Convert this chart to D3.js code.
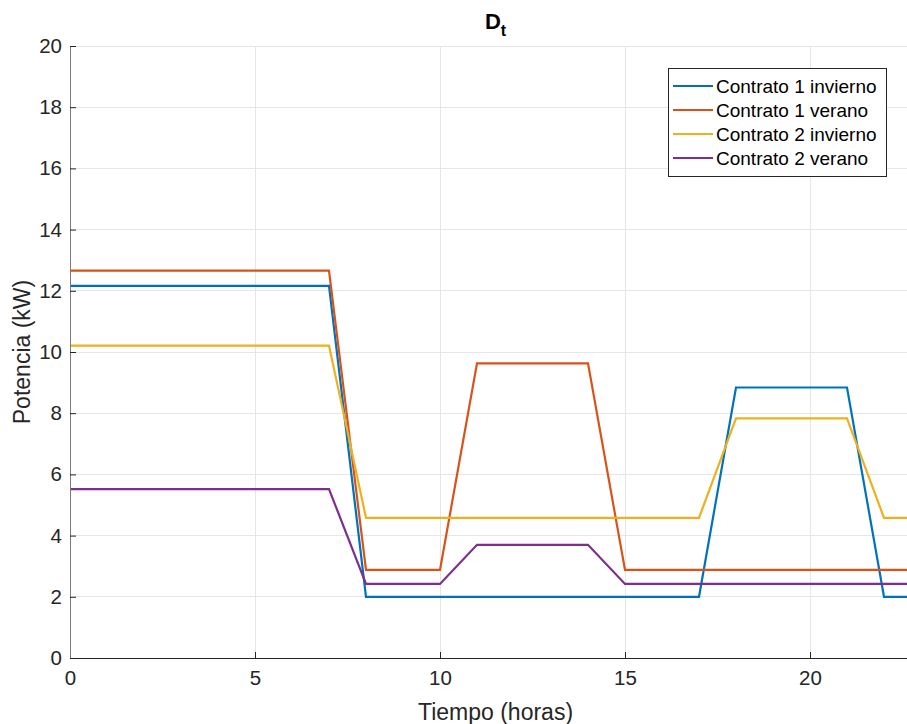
<!DOCTYPE html>
<html>
<head>
<meta charset="utf-8">
<script src="https://cdn.jsdelivr.net/npm/d3@7"></script>
<style>
  html, body { margin: 0; padding: 0; background: #fff; }
  svg { display: block; font-family: "Liberation Sans", Arial, Helvetica, sans-serif; }
</style>
</head>
<body>
<svg id="chart" width="907" height="724"></svg>
<script>
// Hourly power demand (kW) for each contract/season
const hours = [0,1,2,3,4,5,6,7,8,9,10,11,12,13,14,15,16,17,18,19,20,21,22,23];
const c1Invierno = [12.16,12.16,12.16,12.16,12.16,12.16,12.16,12.16,2.0,2.0,2.0,2.0,2.0,2.0,2.0,2.0,2.0,2.0,8.84,8.84,8.84,8.84,2.0,2.0];
const c1Verano   = [12.66,12.66,12.66,12.66,12.66,12.66,12.66,12.66,2.88,2.88,2.88,9.63,9.63,9.63,9.63,2.88,2.88,2.88,2.88,2.88,2.88,2.88,2.88,2.88];
const c2Invierno = [10.21,10.21,10.21,10.21,10.21,10.21,10.21,10.21,4.58,4.58,4.58,4.58,4.58,4.58,4.58,4.58,4.58,4.58,7.83,7.83,7.83,7.83,4.58,4.58];
const c2Verano   = [5.52,5.52,5.52,5.52,5.52,5.52,5.52,5.52,2.42,2.42,2.42,3.70,3.70,3.70,3.70,2.42,2.42,2.42,2.42,2.42,2.42,2.42,2.42,2.42];

const seriesNames = ["Contrato 1 invierno", "Contrato 1 verano", "Contrato 2 invierno", "Contrato 2 verano"];
const seriesColors = ["#0072BD", "#D95319", "#EDB120", "#7E2F8E"];
const seriesValues = [c1Invierno, c1Verano, c2Invierno, c2Verano];

const xTicks = [0, 5, 10, 15, 20];
const yTicks = [0, 2, 4, 6, 8, 10, 12, 14, 16, 18, 20];

const svg = d3.select("#chart");
const plotLeft = 70, plotRight = 921, plotTop = 46, plotBottom = 658;

const x = d3.scaleLinear().domain([0, 23]).range([plotLeft, plotRight]);
const y = d3.scaleLinear().domain([0, 20]).range([plotBottom, plotTop]);

// grid
const grid = svg.append("g").attr("stroke", "#e6e6e6").attr("stroke-width", 1).attr("shape-rendering", "crispEdges");
xTicks.forEach(t => grid.append("line").attr("x1", x(t)).attr("x2", x(t)).attr("y1", plotTop).attr("y2", plotBottom));
yTicks.forEach(t => grid.append("line").attr("x1", plotLeft).attr("x2", plotRight).attr("y1", y(t)).attr("y2", y(t)));

// series lines
const line = d3.line().x((d, i) => x(hours[i])).y(d => y(d));
seriesValues.forEach((vals, k) => {
  svg.append("path")
    .datum(vals)
    .attr("fill", "none")
    .attr("stroke", seriesColors[k])
    .attr("stroke-width", 2.2)
    .attr("stroke-linejoin", "miter")
    .attr("d", line);
});

// axes
const xAxis = d3.axisBottom(x).tickValues(xTicks).tickSize(-6).tickPadding(12).tickFormat(d3.format("d"));
const yAxis = d3.axisLeft(y).tickValues(yTicks).tickSize(-6).tickPadding(8).tickFormat(d3.format("d"));

const gx = svg.append("g").attr("transform", `translate(0,${plotBottom})`).call(xAxis);
const gy = svg.append("g").attr("transform", `translate(${plotLeft},0)`).call(yAxis);

[gx, gy].forEach(g => {
  g.select(".domain").attr("stroke", "#262626").attr("stroke-width", 1);
  g.selectAll(".tick line").attr("stroke", "#262626");
  g.selectAll(".tick text").attr("fill", "#262626").style("font-size", "20.5px")
    .style("font-family", '"Liberation Sans", Arial, sans-serif');
});
gy.select(".domain").attr("stroke", "#7a7a7a");

// title
const title = svg.append("text")
  .attr("x", (plotLeft + plotRight) / 2).attr("y", 29)
  .attr("text-anchor", "middle")
  .attr("fill", "#000")
  .style("font-size", "22px").style("font-weight", "bold");
title.append("tspan").text("D");
title.append("tspan").attr("dy", 7).style("font-size", "16px").text("t");

// axis labels
svg.append("text")
  .attr("x", (plotLeft + plotRight) / 2).attr("y", 720)
  .attr("text-anchor", "middle").attr("fill", "#262626")
  .style("font-size", "23px").text("Tiempo (horas)");
svg.append("text")
  .attr("transform", `translate(30,${(plotTop + plotBottom) / 2}) rotate(-90)`)
  .attr("text-anchor", "middle").attr("fill", "#262626")
  .style("font-size", "23px").text("Potencia (kW)");

// legend
const lg = svg.append("g").attr("transform", "translate(668,68)");
lg.append("rect").attr("x", 0.5).attr("y", 0.5).attr("width", 218).attr("height", 108)
  .attr("fill", "#fff").attr("stroke", "#262626").attr("stroke-width", 1);
seriesNames.forEach((name, k) => {
  const yy = 18 + k * 24;
  lg.append("line").attr("x1", 5).attr("x2", 45).attr("y1", yy).attr("y2", yy)
    .attr("stroke", seriesColors[k]).attr("stroke-width", 2.2);
  lg.append("text").attr("x", 48).attr("y", yy + 7)
    .attr("fill", "#000").style("font-size", "19px").text(name);
});
</script>
</body>
</html>
